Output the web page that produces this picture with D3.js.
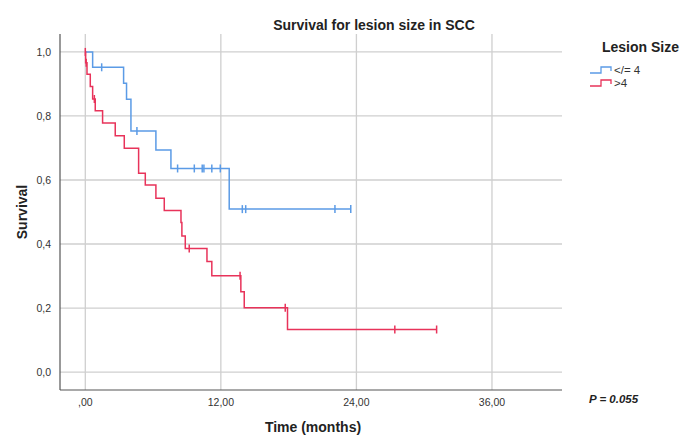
<!DOCTYPE html>
<html>
<head>
<meta charset="utf-8">
<script src="https://cdn.jsdelivr.net/npm/d3@7/dist/d3.min.js"></script>
<style>
  body { margin: 0; background: #fff; }
  svg { display: block; font-family: "Liberation Sans", Arial, sans-serif; }
</style>
</head>
<body>
<div id="chart"></div>
<script>
// step times (months) and survival after each step
const blueTimes = [0.65, 3.39, 3.65, 4.04, 6.25, 7.58, 12.74];
const blueSurv  = [0.952, 0.902, 0.852, 0.753, 0.694, 0.636, 0.509];
const blueCensor = [1.45, 4.57, 8.17, 9.65, 10.35, 10.5, 11.2, 11.95, 13.9, 14.2, 22.1, 23.5];

const redTimes = [0.03, 0.15, 0.44, 0.65, 0.88, 1.53, 2.65, 3.45, 4.72, 5.31, 6.25, 6.99,
                  8.47, 8.55, 8.85, 10.77, 11.2, 13.77, 14.07, 17.9];
const redSurv  = [0.966, 0.930, 0.892, 0.853, 0.816, 0.778, 0.738, 0.699, 0.621, 0.584, 0.543, 0.505,
                  0.467, 0.425, 0.386, 0.345, 0.301, 0.251, 0.201, 0.133];
const redCensor = [0, 0.08, 0.8, 9.2, 13.7, 17.7, 27.4, 31.1];

const groups = ["</= 4", ">4"];
const xTicks = [0, 12, 24, 36];
const xTickLabels = [",00", "12,00", "24,00", "36,00"];
const yTicks = [0, 0.2, 0.4, 0.6, 0.8, 1.0];
const yTickLabels = ["0,0", "0,2", "0,4", "0,6", "0,8", "1,0"];
const pValue = "P = 0.055";

const W = 695, H = 435;
const plotL = 60, plotR = 562, plotT = 34, plotB = 390;

const x = d3.scaleLinear().domain([-2.24, 42.2]).range([plotL, plotR]);
const y = d3.scaleLinear().domain([-0.056, 1.056]).range([plotB, plotT]);

const svg = d3.select("#chart").append("svg")
    .attr("width", W)
    .attr("height", H);

// grid
svg.append("g").selectAll("line").data(yTicks).join("line")
    .attr("x1", plotL).attr("x2", plotR)
    .attr("y1", d => y(d)).attr("y2", d => y(d))
    .attr("stroke", "#cfcfcf").attr("stroke-width", 1.3);

svg.append("g").selectAll("line").data(xTicks).join("line")
    .attr("x1", d => x(d)).attr("x2", d => x(d))
    .attr("y1", plotT).attr("y2", plotB)
    .attr("stroke", "#cfcfcf").attr("stroke-width", 1.3);

// axes lines
svg.append("line").attr("x1", plotL).attr("x2", plotL).attr("y1", plotT).attr("y2", plotB)
    .attr("stroke", "#555").attr("stroke-width", 1.2);
svg.append("line").attr("x1", plotL).attr("x2", plotR).attr("y1", plotB).attr("y2", plotB)
    .attr("stroke", "#555").attr("stroke-width", 1.2);

// tick labels
svg.append("g").selectAll("text").data(yTicks).join("text")
    .attr("x", 51).attr("y", d => y(d) + 4)
    .attr("text-anchor", "end")
    .attr("font-size", 10.5).attr("fill", "#333")
    .text((d, i) => yTickLabels[i]);

svg.append("g").selectAll("text").data(xTicks).join("text")
    .attr("x", d => x(d)).attr("y", 406)
    .attr("text-anchor", "middle")
    .attr("font-size", 10.5).attr("fill", "#333")
    .text((d, i) => xTickLabels[i]);

// titles
svg.append("text").attr("x", 374).attr("y", 30)
    .attr("text-anchor", "middle").attr("font-weight", "bold").attr("font-size", 14).attr("fill", "#222")
    .text("Survival for lesion size in SCC");

svg.append("text").attr("x", 313).attr("y", 432)
    .attr("text-anchor", "middle").attr("font-weight", "bold").attr("font-size", 14).attr("fill", "#222")
    .text("Time (months)");

svg.append("text")
    .attr("transform", `translate(27, 212) rotate(-90)`)
    .attr("text-anchor", "middle").attr("font-weight", "bold").attr("font-size", 14).attr("fill", "#222")
    .text("Survival");

svg.append("text").attr("x", 589).attr("y", 403)
    .attr("font-weight", "bold").attr("font-style", "italic").attr("font-size", 11.5).attr("fill", "#222")
    .text(pValue);

// KM curves
function stepPoints(times, surv, end) {
  const pts = [[0, 1]];
  let s = 1;
  times.forEach((t, i) => {
    pts.push([t, s]);
    s = surv[i];
    pts.push([t, s]);
  });
  pts.push([end, s]);
  return pts;
}
function survAt(times, surv, t) {
  let s = 1;
  times.forEach((tt, i) => { if (tt <= t) s = surv[i]; });
  return s;
}

const series = [
  { name: groups[0], times: blueTimes, surv: blueSurv, censor: blueCensor, color: "#5b9be6" },
  { name: groups[1], times: redTimes, surv: redSurv, censor: redCensor, color: "#e8335a" }
];

const line = d3.line().x(d => x(d[0])).y(d => y(d[1]));

series.forEach(s => {
  const end = Math.max(d3.max(s.censor), d3.max(s.times));
  svg.append("path")
      .datum(stepPoints(s.times, s.surv, end))
      .attr("fill", "none")
      .attr("stroke", s.color)
      .attr("stroke-width", 1.5)
      .attr("d", line);

  svg.append("g").selectAll("line").data(s.censor).join("line")
      .attr("x1", d => x(d)).attr("x2", d => x(d))
      .attr("y1", d => y(survAt(s.times, s.surv, d)) - 4)
      .attr("y2", d => y(survAt(s.times, s.surv, d)) + 4)
      .attr("stroke", s.color)
      .attr("stroke-width", 1.5);
});

// legend
const lg = svg.append("g");
lg.append("text").attr("x", 602).attr("y", 52)
    .attr("font-weight", "bold").attr("font-size", 14).attr("fill", "#222")
    .text("Lesion Size");

series.forEach((s, i) => {
  const ly = 70 + i * 13;
  lg.append("path")
      .attr("d", `M590,${ly + 3}H601V${ly - 3}H611V${ly + 1}`)
      .attr("fill", "none")
      .attr("stroke", s.color)
      .attr("stroke-width", 1.3);
  lg.append("text").attr("x", 614).attr("y", ly + 4)
      .attr("font-size", 11.5).attr("fill", "#333")
      .text(s.name);
});
</script>
</body>
</html>
